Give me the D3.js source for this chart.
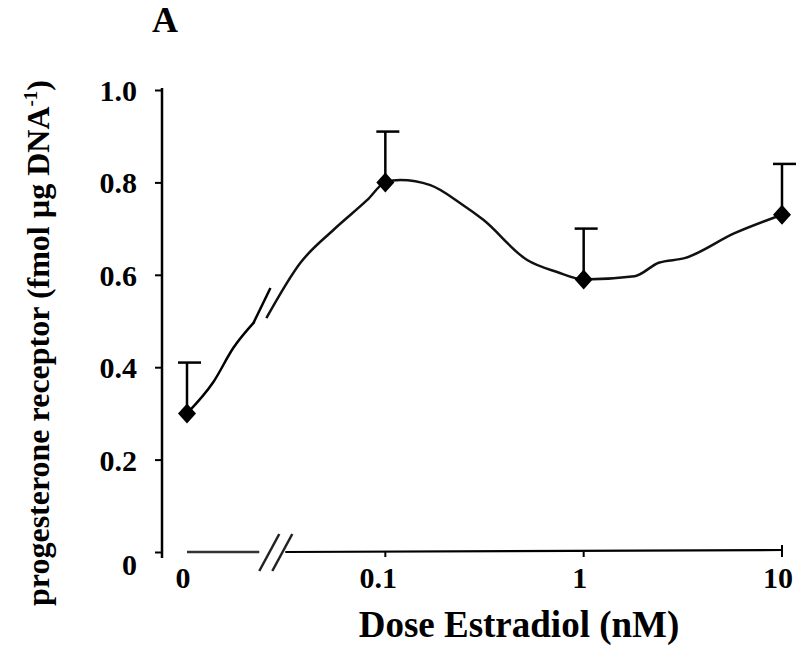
<!DOCTYPE html>
<html>
<head>
<meta charset="utf-8">
<script src="https://cdn.jsdelivr.net/npm/d3@7"></script>
<style>
  html, body { margin: 0; padding: 0; background: #fff; }
  svg text { font-family: "Liberation Serif", "Times New Roman", serif; font-weight: bold; fill: #000; }
</style>
</head>
<body>
<svg id="chart" width="797" height="651"></svg>
<script>
// ---- data ----
const doseLabels = ["0", "0.1", "1", "10"];
const doses = [0, 0.1, 1, 10];
const meanPR = [0.30, 0.80, 0.59, 0.73];
const semPR = [0.11, 0.11, 0.11, 0.11];
const yTicks = [0, 0.2, 0.4, 0.6, 0.8, 1.0];

// fitted curve, x in decades (log10 dose; dose 0 plotted at -2), split at axis break
const fitLowU = [-2, -1.867, -1.766, -1.66];
const fitLowV = [0.30, 0.368, 0.442, 0.498];
const fitHighU = [-1.60, -1.428, -1.262, -1.091, -1.0, -0.924, -0.773, -0.622, -0.506, -0.285, -0.134, 0, 0.257, 0.378, 0.509, 0.761, 1.0];
const fitHighV = [0.506, 0.626, 0.697, 0.762, 0.80, 0.805, 0.794, 0.755, 0.719, 0.632, 0.606, 0.59, 0.597, 0.626, 0.636, 0.690, 0.73];
const zeroPos = -2;
const breakU = -1.57;

// ---- layout ----
const svg = d3.select("#chart");
const x = d3.scaleLinear().domain([-2, 1]).range([187, 782]);
const y = d3.scaleLinear().domain([0, 1]).range([552, 90]);
const u = d => d > 0 ? Math.log10(d) : zeroPos;

// title
svg.append("text").attr("x", 152).attr("y", 32).style("font-size", "36px").text("A");

// y axis
const yAxis = d3.axisLeft(y).tickValues(yTicks).tickSize(7).tickSizeOuter(0)
  .tickFormat(v => v === 0 ? "0" : v.toFixed(1));
const gy = svg.append("g").attr("transform", "translate(162,0)").call(yAxis);
gy.select(".domain").remove();
gy.selectAll(".tick line").attr("stroke", "#000").attr("stroke-width", 2);
gy.selectAll(".tick text").attr("x", -25).style("font-size", "30px").style("font-family", "Liberation Serif").style("font-weight", "bold")
  .attr("dy", "0.35em");
gy.selectAll(".tick").filter(d => d === 0).select("text").attr("dy", "0.75em");
svg.append("line").attr("x1", 162).attr("x2", 162).attr("y1", y(1) - 2).attr("y2", y(0) + 6)
  .attr("stroke", "#000").attr("stroke-width", 2.5);

// x axis (broken)
const axY = y(0);
svg.append("line").attr("x1", x(zeroPos)).attr("x2", x(breakU) - 13).attr("y1", axY).attr("y2", axY)
  .attr("stroke", "#333").attr("stroke-width", 2.5);
svg.append("line").attr("x1", x(breakU) + 13).attr("x2", x(1)).attr("y1", axY).attr("y2", axY - 2)
  .attr("stroke", "#000").attr("stroke-width", 2.2);
[-13, 0].forEach(a => {
  svg.append("line")
    .attr("x1", x(breakU) + a).attr("y1", axY + 19)
    .attr("x2", x(breakU) + a + 20).attr("y2", axY - 18)
    .attr("stroke", "#222").attr("stroke-width", 2.5);
});
doses.forEach((d, i) => {
  if (d > 0) {
    svg.append("line").attr("x1", x(u(d))).attr("x2", x(u(d)))
      .attr("y1", axY - (d === 10 ? 7 : 0)).attr("y2", axY + 5)
      .attr("stroke", "#000").attr("stroke-width", 2);
  }
  svg.append("text").attr("x", x(u(d)) - (d === 0.1 ? 7 : 4)).attr("y", 588)
    .attr("text-anchor", "middle").style("font-size", "30px").text(doseLabels[i]);
});

// axis titles
svg.append("text").attr("x", 519).attr("y", 637).attr("text-anchor", "middle")
  .style("font-size", "37px").text("Dose Estradiol (nM)");
const yl = svg.append("text").attr("transform", "translate(49,343) rotate(-90)")
  .attr("text-anchor", "middle").style("font-size", "32px");
yl.append("tspan").text("progesterone receptor (fmol \u00b5g DNA");
yl.append("tspan").attr("dy", -12).style("font-size", "19px").text("-1");
yl.append("tspan").attr("dy", 12).text(")");

// fitted curve
const line = d3.line().x(d => x(d[0])).y(d => y(d[1])).curve(d3.curveMonotoneX);
svg.append("path").datum(fitLowU.map((v, i) => [v, fitLowV[i]])).attr("d", line)
  .attr("fill", "none").attr("stroke", "#000").attr("stroke-width", 2.5);
svg.append("path").datum(fitHighU.map((v, i) => [v, fitHighV[i]])).attr("d", line)
  .attr("fill", "none").attr("stroke", "#111").attr("stroke-width", 2.5);
// break slash on curve
svg.append("line")
  .attr("x1", x(fitLowU[fitLowU.length - 1]) - 1).attr("y1", y(fitLowV[fitLowV.length - 1]) + 1)
  .attr("x2", x(fitLowU[fitLowU.length - 1]) + 16).attr("y2", y(fitLowV[fitLowV.length - 1]) - 34)
  .attr("stroke", "#000").attr("stroke-width", 2.5);

// error bars (upper only) and markers
doses.forEach((d, i) => {
  const cx = x(u(d)), top = y(meanPR[i] + semPR[i]);
  svg.append("line").attr("x1", cx).attr("x2", cx).attr("y1", y(meanPR[i])).attr("y2", top)
    .attr("stroke", "#000").attr("stroke-width", 2.5);
  svg.append("line").attr("x1", cx - 9).attr("x2", cx + 14).attr("y1", top).attr("y2", top)
    .attr("stroke", "#000").attr("stroke-width", 2.5);
});
svg.selectAll(".mk").data(doses).enter().append("path")
  .attr("d", "M0,-10L9,0L0,10L-9,0Z")
  .attr("transform", (d, i) => `translate(${x(u(d))},${y(meanPR[i])})`)
  .attr("fill", "#000");
</script>
</body>
</html>
